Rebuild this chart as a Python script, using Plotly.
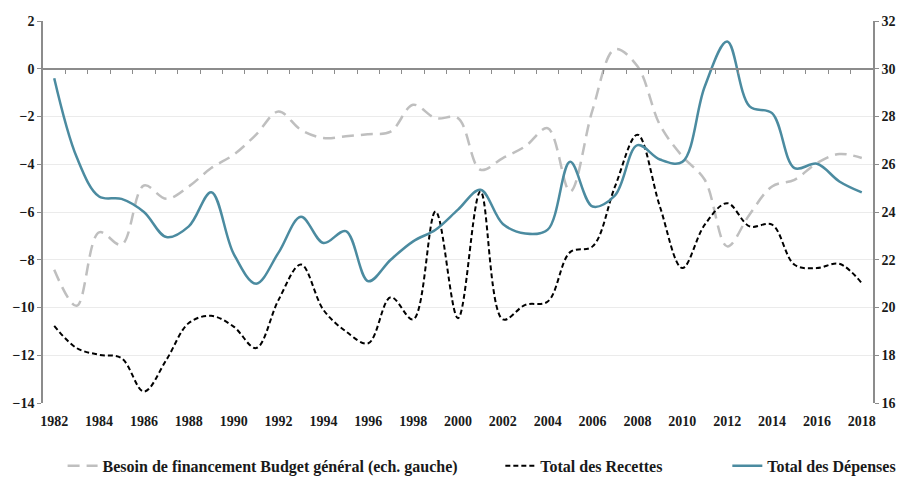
import plotly.graph_objects as go

years = list(range(1982, 2019))

besoin = [-8.42, -9.93, -6.85, -7.37, -4.89, -5.45, -4.93, -4.16, -3.6, -2.76,
          -1.79, -2.56, -2.9, -2.83, -2.74, -2.63, -1.51, -2.07, -2.07, -4.23,
          -3.74, -3.25, -2.49, -5.14, -1.72, 0.82, 0.1, -2.35, -3.67, -4.65,
          -7.44, -6.1, -4.93, -4.65, -3.95, -3.57, -3.74]

recettes = [19.23, 18.3, 18.02, 17.88, 16.48, 17.81, 19.35, 19.65, 19.2, 18.3,
            20.32, 21.8, 19.9, 19.0, 18.5, 20.43, 19.5, 24.02, 19.55, 24.86,
            19.5, 20.11, 20.25, 22.32, 22.56, 25.07, 27.24, 24.23, 21.65, 23.47,
            24.37, 23.4, 23.47, 21.79, 21.65, 21.83, 21.02]

depenses = [29.6, 26.3, 24.65, 24.55, 24.0, 22.95, 23.4, 24.83, 22.25, 21.0,
            22.3, 23.8, 22.7, 23.2, 21.1, 22.0, 22.77, 23.26, 24.1, 24.93,
            23.5, 23.1, 23.26, 26.1, 24.23, 24.7, 26.8, 26.2, 26.1, 29.26,
            31.14, 28.42, 28.14, 25.84, 26.02, 25.28, 24.82]

x_labels = list(range(1982, 2019, 2))
between_ticks = [y + 0.5 for y in range(1982, 2018)]

FONT = "'Liberation Serif', 'DejaVu Serif', serif"
AXIS_COL = "#8c8c8c"
TEAL = "#4B8BA0"
TXT = "#1a1a1a"

fig = go.Figure()
fig.add_trace(go.Scatter(
    x=years, y=besoin, name="Besoin de financement Budget général (ech. gauche)",
    mode="lines", line=dict(color="#BFBFBF", width=2.5, dash="12px,7px",
                            shape="spline", smoothing=1.0),
    yaxis="y", legend="legend"))
fig.add_trace(go.Scatter(
    x=years, y=recettes, name="Total des Recettes",
    mode="lines", line=dict(color="#000000", width=2, dash="5px,3px",
                            shape="spline", smoothing=1.0),
    yaxis="y2", legend="legend2"))
fig.add_trace(go.Scatter(
    x=years, y=depenses, name="Total des Dépenses",
    mode="lines", line=dict(color=TEAL, width=2.5, shape="spline", smoothing=1.0),
    yaxis="y2", legend="legend3"))

tickfont = dict(family=FONT, size=14, weight="bold", color=TXT)
legfont = dict(family=FONT, size=16, color=TXT, weight="bold")
leg_common = dict(orientation="h", y=-0.12, yanchor="top", xanchor="left",
                  font=legfont, bgcolor="rgba(0,0,0,0)")

fig.update_layout(
    width=908, height=478,
    margin=dict(l=43, r=35, t=21, b=75, autoexpand=False),
    paper_bgcolor="white", plot_bgcolor="white",
    font=dict(family=FONT, size=14, color=TXT),
    showlegend=True,
    legend=dict(x=0.0236, **leg_common),
    legend2=dict(x=0.551, **leg_common),
    legend3=dict(x=0.8245, **leg_common),
    xaxis=dict(range=[1981.5, 2018.5], tickvals=x_labels, ticktext=[str(v) for v in x_labels],
               showgrid=False, zeroline=False, showline=False, ticks="",
               ticklabelstandoff=8, tickfont=tickfont),
    xaxis2=dict(range=[1981.5, 2018.5], overlaying="x", anchor="free", position=0.875,
                side="bottom", showline=True, linecolor=AXIS_COL, linewidth=1.5,
                ticks="outside", ticklen=4, tickcolor=AXIS_COL, tickwidth=1.3,
                tickvals=between_ticks, showticklabels=False, showgrid=False, zeroline=False),
    yaxis=dict(range=[-14, 2], dtick=2, showgrid=True, gridcolor="#EBEBEB", gridwidth=1,
               zeroline=False, showline=True, linecolor=AXIS_COL, linewidth=1.5,
               ticks="outside", ticklen=4, tickcolor=AXIS_COL, tickfont=tickfont),
    yaxis2=dict(range=[16, 32], dtick=2, overlaying="y", side="right", showgrid=False,
                zeroline=False, showline=True, linecolor=AXIS_COL, linewidth=1.5,
                ticks="outside", ticklen=4, tickcolor=AXIS_COL, tickfont=tickfont),
)
# empty trace to activate xaxis2 (the tick-mark axis at zero)
fig.add_trace(go.Scatter(x=[1982], y=[None], xaxis="x2", showlegend=False, hoverinfo="skip"))

fig.write_html("out.html", config={"displayModeBar": False},
               post_script="document.body.style.margin='0';")
